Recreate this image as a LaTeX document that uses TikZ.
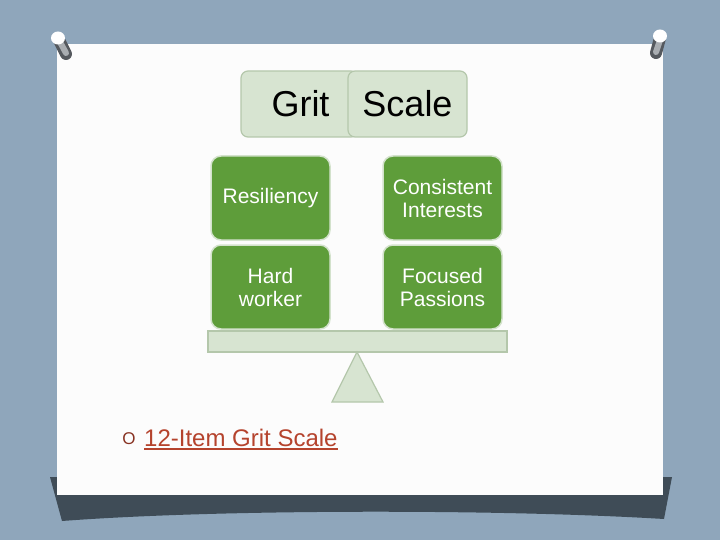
\documentclass[tikz,border=0pt]{standalone}
\usepackage{fontspec}
\setmainfont{Liberation Sans}
\begin{document}
\begin{tikzpicture}[x=1pt,y=-1pt,
  titlebox/.style={draw=titleborder,fill=titlefill,line width=1.2pt,rounded corners=7pt,minimum width=#1,minimum height=66pt,inner sep=0pt,font=\fontsize{36}{40}\selectfont,text=black},
  greenbox/.style={draw=greenborder,fill=greenfill,line width=1.5pt,rounded corners=10pt,minimum width=119pt,minimum height=84pt,inner sep=0pt,align=center,text=white,font=\fontsize{21}{23}\selectfont},
  pinbodystyle/.style={line width=12pt,line cap=round,draw=pinbody},
  pinshade/.style={line width=6pt,line cap=round,draw=pinlight}]
\definecolor{bg}{HTML}{8FA6BB}
\definecolor{shadow}{HTML}{3F4C57}
\definecolor{titlefill}{HTML}{D7E4D1}
\definecolor{titleborder}{HTML}{B4C7AB}
\definecolor{greenfill}{HTML}{5E9D3A}
\definecolor{greenborder}{HTML}{D3E2CC}
\definecolor{linkred}{HTML}{B5432D}
\definecolor{pinbody}{HTML}{55595E}
\definecolor{pinlight}{HTML}{A9ADB1}
\useasboundingbox (0,0) rectangle (720,540);
% background
\fill[bg] (0,0) rectangle (720,540);
% shadow under the paper
\fill[shadow] (50,477) -- (672,477) -- (664,519) .. controls (500,509) and (220,509) .. (62,521) -- cycle;
% paper
\fill[white!98!gray] (57,44) rectangle (663,495);
% pins
\draw[pinbodystyle] (59,40) -- (66,54);
\draw[pinshade] (60,42) -- (66,53);
\fill[white] (58,38) ellipse (7pt and 6.5pt);
\draw[pinbodystyle] (660,38) -- (656,53);
\draw[pinshade] (660,40) -- (656,52);
\fill[white] (660,36) ellipse (7pt and 6.5pt);
% title
\node[titlebox=117pt] (grit) at (299.5,104) {\hspace*{2pt}Grit};
\node[titlebox=119pt] (scale) at (407.5,104) {Scale};
% green boxes
\node[greenbox] (res) at (270.5,198) {Resiliency};
\node[greenbox] (con) at (442.5,198) {Consistent\\Interests};
\node[greenbox] (hard) at (270.5,287) {Hard\\worker};
\node[greenbox] (foc) at (442.5,287) {Focused\\Passions};
% beam and fulcrum
\draw[titleborder,fill=titlefill,line width=1.2pt] (208,331) rectangle (507,352);
\draw[titleborder,fill=titlefill,line width=1.2pt] (357,352) -- (383,402) -- (332,402) -- cycle;
% bullet text
\node[text=linkred!75!black,font=\fontsize{17}{17}\selectfont,inner sep=0pt] (bul) at (129,439) {O};
\node[text=linkred,font=\fontsize{24}{26}\selectfont,inner sep=0pt,anchor=base west] (lnk) at (144,446) {12-Item Grit Scale};
\draw[linkred,line width=1.8pt] ([yshift=-3pt]lnk.base west) -- ([yshift=-3pt]lnk.base east);
\end{tikzpicture}
\end{document}
